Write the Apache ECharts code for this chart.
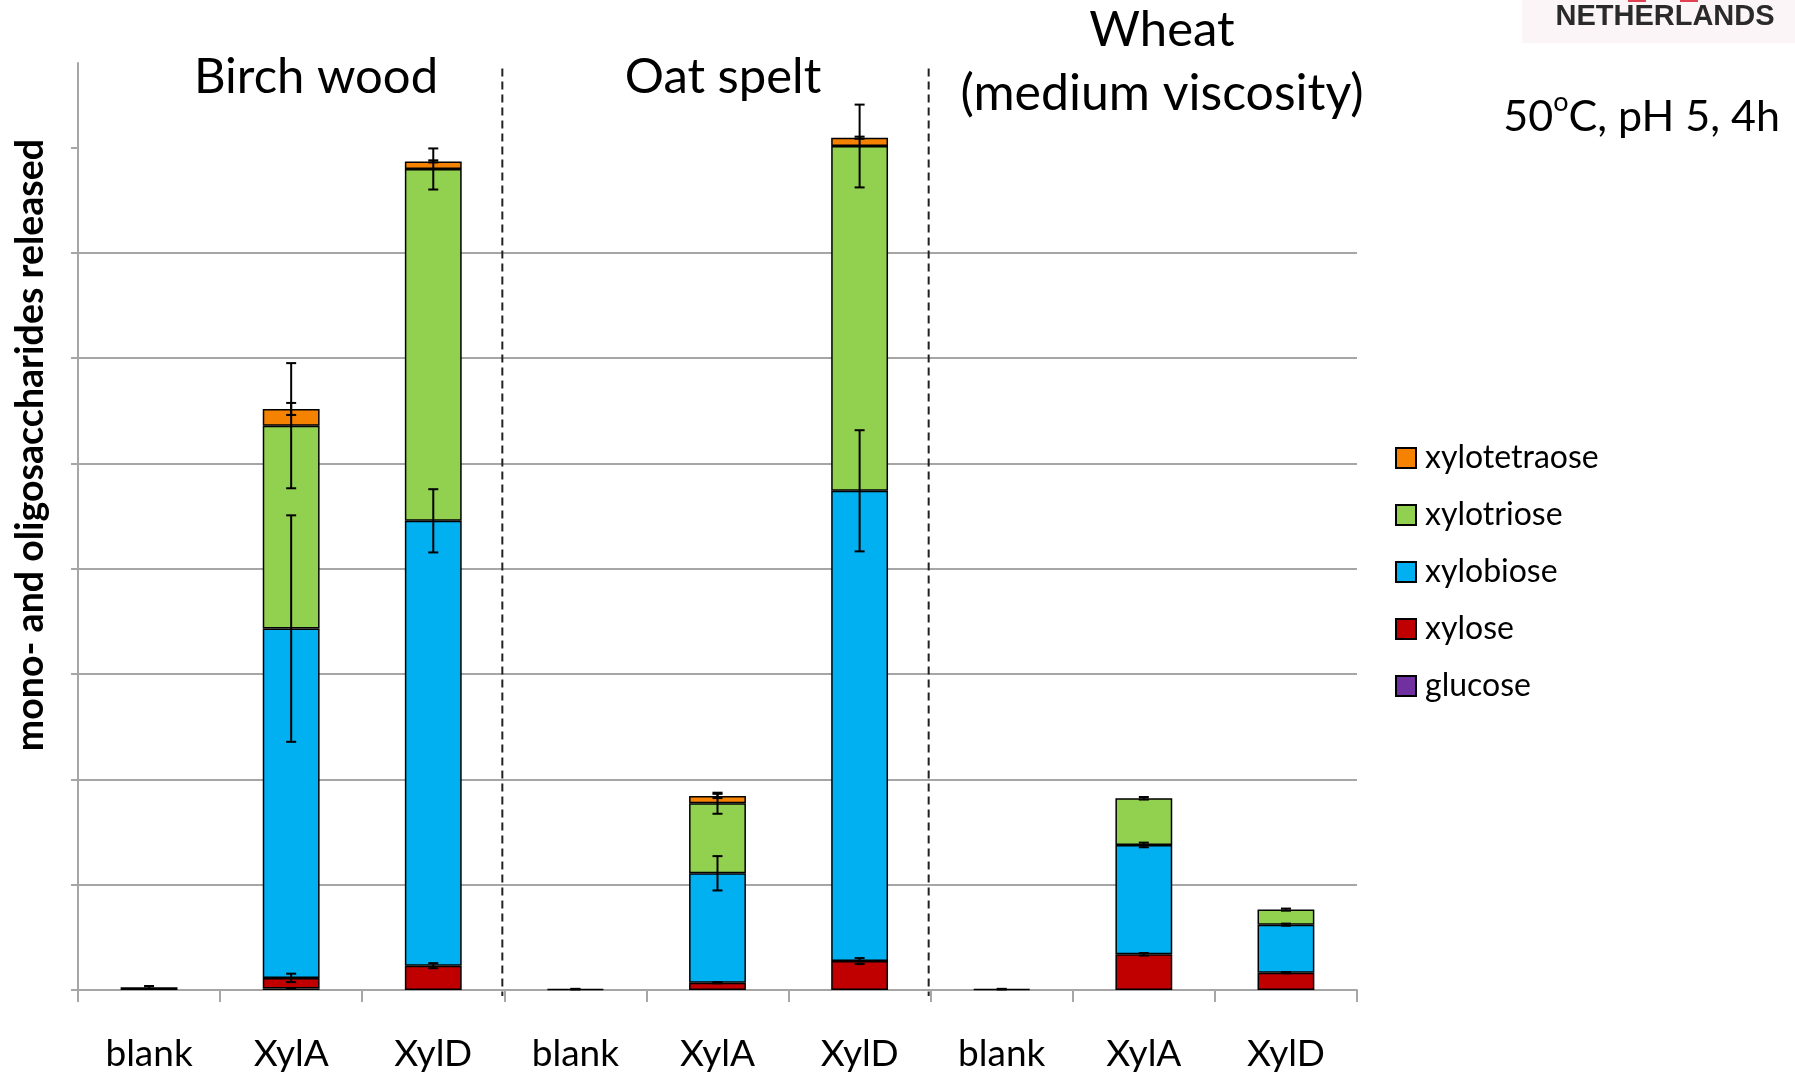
<!DOCTYPE html>
<html>
<head>
<meta charset="utf-8">
<title>Mono- and oligosaccharides released</title>
<script src="https://cdn.jsdelivr.net/npm/echarts/dist/echarts.min.js"></script>
<style>
  html, body { margin: 0; padding: 0; background: #ffffff; }
  #chart { width: 1795px; height: 1074px; }
</style>
</head>
<body>
<div id="chart"></div>
<script>
// Substrate / enzyme combinations along the x axis
const categories = ['blank', 'XylA', 'XylD', 'blank', 'XylA', 'XylD', 'blank', 'XylA', 'XylD'];
const groupTitles = ['Birch wood', 'Oat spelt', 'Wheat', '(medium viscosity)'];
const groupBoundaries = [3, 6];

// Released amounts per sugar (stacked bottom to top), with standard deviations
const glucose         = [0.025, 0.015, 0,     0.008, 0,     0,     0.008, 0,     0];
const glucoseErr      = [0.013, 0.005, 0,     0.003, 0,     0,     0.003, 0,     0];
const xylose          = [0,     0.100, 0.231, 0,     0.069, 0.275, 0,     0.339, 0.164];
const xyloseErr       = [0,     0.040, 0.024, 0,     0.006, 0.028, 0,     0.012, 0.006];
const xylobiose       = [0,     3.316, 4.223, 0,     1.039, 4.464, 0,     1.038, 0.456];
const xylobioseErr    = [0,     1.075, 0.300, 0,     0.163, 0.575, 0,     0.022, 0.010];
const xylotriose      = [0,     1.926, 3.340, 0,     0.665, 3.273, 0,     0.443, 0.143];
const xylotrioseErr   = [0,     0.594, 0.195, 0,     0.100, 0.393, 0,     0.012, 0.010];
const xylotetraose    = [0,     0.159, 0.072, 0,     0.069, 0.079, 0,     0,     0];
const xylotetraoseErr = [0,     0.057, 0.010, 0,     0.020, 0.010, 0,     0,     0];

// Y axis: gridlines every unit, axis extends a little above the last one
const yTicks = [0, 1, 2, 3, 4, 5, 6, 7, 8];
const yMax = 8.8;

const sugars = [
  { name: 'glucose',      values: glucose,      errors: glucoseErr,      color: '#7030A0' },
  { name: 'xylose',       values: xylose,       errors: xyloseErr,       color: '#C00000' },
  { name: 'xylobiose',    values: xylobiose,    errors: xylobioseErr,    color: '#00B0F0' },
  { name: 'xylotriose',   values: xylotriose,   errors: xylotrioseErr,   color: '#92D050' },
  { name: 'xylotetraose', values: xylotetraose, errors: xylotetraoseErr, color: '#F58200' }
];

const FONT = 'Lato, "Open Sans", sans-serif';

// Error bars sit on the cumulative top of each stacked segment
const errorData = [];
const running = categories.map(() => 0);
sugars.forEach(s => {
  s.values.forEach((v, i) => {
    running[i] += v;
    if (v > 0 && s.errors[i] > 0) errorData.push([i, running[i], s.errors[i]]);
  });
});

const barSeries = sugars.map(s => ({
  name: s.name,
  type: 'bar',
  stack: 'total',
  barWidth: '40%',
  data: s.values.map(v => (v === 0 ? null : v)),
  itemStyle: { color: s.color, borderColor: '#000000', borderWidth: 1.5 },
  emphasis: { disabled: true },
  z: 2
}));

function renderErrorBar(params, api) {
  const i = api.value(0), top = api.value(1), e = api.value(2);
  const hi = api.coord([i, top + e]);
  const lo = api.coord([i, top - e]);
  const x = hi[0];
  const cap = 5;
  const st = { stroke: '#000000', lineWidth: 2 };
  return {
    type: 'group',
    children: [
      { type: 'line', shape: { x1: x, y1: hi[1], x2: x, y2: lo[1] }, style: st },
      { type: 'line', shape: { x1: x - cap, y1: hi[1], x2: x + cap, y2: hi[1] }, style: st },
      { type: 'line', shape: { x1: x - cap, y1: lo[1], x2: x + cap, y2: lo[1] }, style: st }
    ]
  };
}

function renderDivider(params, api) {
  const b = api.value(0);
  const left = api.coord([b - 1, 0]);
  const right = api.coord([b, 0]);
  const x = (left[0] + right[0]) / 2 - 2;
  const top = api.coord([b, yMax * 0.994])[1];
  return {
    type: 'line',
    shape: { x1: x, y1: top, x2: x, y2: left[1] + 6 },
    style: { stroke: '#222222', lineWidth: 2, lineDash: [8, 5] }
  };
}

const chart = echarts.init(document.getElementById('chart'), null, { renderer: 'canvas' });

chart.setOption({
  backgroundColor: '#ffffff',
  animation: false,
  grid: { left: 78, right: 438, top: 63, bottom: 84, outerBoundsMode: 'none', containLabel: false },
  legend: {
    orient: 'vertical',
    left: 1390,
    top: 437,
    data: ['xylotetraose', 'xylotriose', 'xylobiose', 'xylose', 'glucose'],
    icon: 'rect',
    itemWidth: 20,
    itemHeight: 20,
    itemGap: 25,
    selectedMode: false,
    textStyle: { fontFamily: FONT, fontSize: 32, color: '#000000', lineHeight: 20, padding: [0, 0, 0, 4] }
  },
  xAxis: {
    type: 'category',
    data: categories,
    axisLine: { lineStyle: { color: '#a6a6a6', width: 2 } },
    axisTick: { show: true, length: 12, lineStyle: { color: '#a6a6a6', width: 2 } },
    axisLabel: { fontFamily: FONT, fontSize: 37, color: '#000000', margin: 46 },
    splitLine: { show: false }
  },
  yAxis: {
    type: 'value',
    min: 0,
    max: yMax,
    interval: 1,
    axisLine: { show: true, lineStyle: { color: '#a6a6a6', width: 2 } },
    axisTick: { show: true, inside: false, length: 7, customValues: yTicks, lineStyle: { color: '#a6a6a6', width: 2 } },
    axisLabel: { show: false },
    splitLine: { show: true, showMaxLine: false, showMinLine: true, lineStyle: { color: '#a6a6a6', width: 2 } }
  },
  series: barSeries.concat([
    {
      type: 'custom',
      name: 'error',
      renderItem: renderErrorBar,
      data: errorData,
      encode: { x: 0, y: 1 },
      clip: false,
      silent: true,
      z: 5
    },
    {
      type: 'custom',
      name: 'divider',
      renderItem: renderDivider,
      data: groupBoundaries.map(b => [b, 0]),
      encode: { x: 0, y: 1 },
      clip: false,
      silent: true,
      z: 4
    }
  ]),
  graphic: [
    { type: 'text', x: 316, y: 77, style: { text: groupTitles[0], fontFamily: FONT, fontSize: 49, fill: '#000', align: 'center', verticalAlign: 'middle' } },
    { type: 'text', x: 723, y: 77, style: { text: groupTitles[1], fontFamily: FONT, fontSize: 49, fill: '#000', align: 'center', verticalAlign: 'middle' } },
    { type: 'text', x: 1162, y: 30, style: { text: groupTitles[2], fontFamily: FONT, fontSize: 49, fill: '#000', align: 'center', verticalAlign: 'middle' } },
    { type: 'text', x: 1162, y: 94, style: { text: groupTitles[3], fontFamily: FONT, fontSize: 50, fill: '#000', align: 'center', verticalAlign: 'middle' } },
    {
      type: 'text', x: 1780, y: 114,
      style: {
        text: '{n|50}{s|o}{n|C, pH 5, 4h}',
        align: 'right', verticalAlign: 'middle',
        rich: {
          n: { fontFamily: FONT, fontSize: 43, fill: '#000', verticalAlign: 'bottom', lineHeight: 50 },
          s: { fontFamily: FONT, fontSize: 27, fill: '#000', verticalAlign: 'top', lineHeight: 50, padding: [0, 0, 18, 0] }
        }
      }
    },
    {
      type: 'text', x: 31, y: 445, rotation: Math.PI / 2,
      style: { text: 'mono- and oligosaccharides released', fontFamily: FONT, fontWeight: 'bold', fontSize: 37.5, fill: '#000', align: 'center', verticalAlign: 'middle' }
    },
    // Cropped logo in the top-right corner
    { type: 'rect', shape: { x: 1522, y: 0, width: 273, height: 43 }, style: { fill: '#fbf5f7' } },
    { type: 'rect', shape: { x: 1628, y: 0, width: 18, height: 2 }, style: { fill: '#e04050' } },
    { type: 'rect', shape: { x: 1680, y: 0, width: 18, height: 2 }, style: { fill: '#e04050' } },
    { type: 'text', x: 1665, y: 17, style: { text: 'NETHERLANDS', fontFamily: '"Liberation Sans", Arial, sans-serif', fontWeight: 'bold', fontSize: 29, fill: '#2a2a2a', align: 'center', verticalAlign: 'middle' } }
  ]
});
</script>
</body>
</html>
